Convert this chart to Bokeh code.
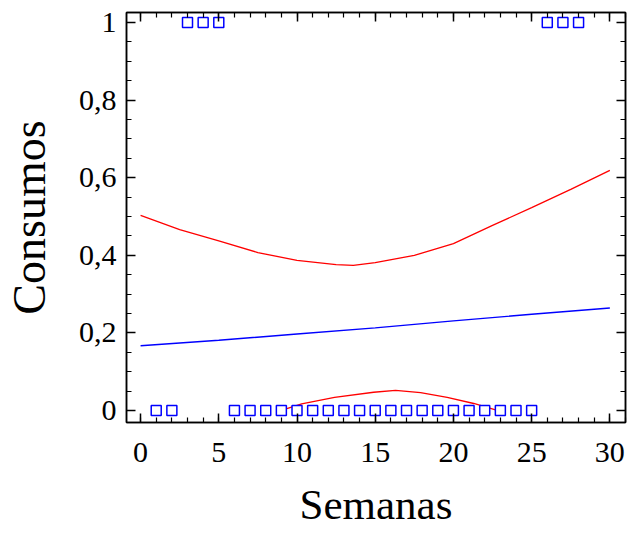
from bokeh.plotting import figure
from bokeh.models import LinearAxis, FixedTicker, Range1d, CustomLabelingPolicy
from bokeh.embed import file_html
from bokeh.resources import INLINE

# Observed data: weeks with consumption = 1 and = 0
semanas_uno = [3, 4, 5, 26, 27, 28]
semanas_cero = [1, 2, 6, 7, 8, 9, 10, 11, 12, 13, 14, 15, 16, 17, 18, 19,
                20, 21, 22, 23, 24, 25]

# Fitted model (blue)
ajuste_x = [0, 5, 10, 15, 20, 25, 30]
ajuste_y = [0.167, 0.181, 0.197, 0.213, 0.231, 0.248, 0.264]

# Upper confidence limit (red)
sup_x = [0, 2.5, 5, 7.5, 10, 12.5, 13.6, 15, 17.5, 20, 22.5, 25, 27.5, 30]
sup_y = [0.503, 0.466, 0.437, 0.407, 0.387, 0.376, 0.374, 0.381, 0.400,
         0.430, 0.477, 0.523, 0.570, 0.619]

# Lower confidence limit (red)
inf_x = [9.0, 10.3, 12.4, 14.9, 16.3, 17.9, 19.6, 21.3, 22.8]
inf_y = [0.0, 0.017, 0.034, 0.047, 0.052, 0.046, 0.034, 0.018, 0.0]

x_ticks = [0, 5, 10, 15, 20, 25, 30]
x_tick_labels = ["0", "5", "10", "15", "20", "25", "30"]
y_ticks = [0, 0.2, 0.4, 0.6, 0.8, 1.0]
y_tick_labels = ["0", "0,2", "0,4", "0,6", "0,8", "1"]
x_minor = list(range(-1, 32))
y_minor = [round(i * 0.05, 2) for i in range(0, 21)]

FONT = "Liberation Serif"

p = figure(width=632, height=539, output_backend="svg", toolbar_location=None,
           x_range=Range1d(-0.9, 31.0), y_range=Range1d(-0.031, 1.026),
           min_border_left=124, min_border_right=7, min_border_top=12,
           min_border_bottom=117, x_axis_location=None, y_axis_location=None)
p.background_fill_color = "white"
p.border_fill_color = "white"
p.outline_line_color = "black"
p.outline_line_width = 1.5
p.xgrid.visible = False
p.ygrid.visible = False

no_labels = CustomLabelingPolicy(code="""
    const n = indices.size
    for (let i = 0; i < n; i++) {
        indices.unset(i)
    }
    return indices
""")


def style_axis(ax, ticks, minor, labels, show_labels, standoff=10):
    ax.ticker = FixedTicker(ticks=ticks, minor_ticks=minor)
    ax.axis_line_color = "black"
    ax.axis_line_width = 1.5
    ax.major_tick_in = 9
    ax.major_tick_out = 0
    ax.minor_tick_in = 5
    ax.minor_tick_out = 0
    ax.major_tick_line_width = 1.5
    ax.minor_tick_line_width = 1.2
    ax.major_tick_line_color = "black"
    ax.minor_tick_line_color = "black"
    ax.major_label_text_font = FONT
    ax.major_label_text_color = "black"
    if show_labels:
        ax.major_label_overrides = {t: l for t, l in zip(ticks, labels)}
        ax.major_label_text_font_size = "30px"
        ax.major_label_standoff = standoff
    else:
        ax.major_label_text_font_size = "0px"
        ax.major_label_standoff = 0
        ax.major_label_policy = no_labels


xb = LinearAxis(axis_label="Semanas")
style_axis(xb, x_ticks, x_minor, x_tick_labels, True, standoff=20)
xb.axis_label_text_font = FONT
xb.axis_label_text_font_size = "43px"
xb.axis_label_text_font_style = "normal"
xb.axis_label_text_color = "black"
xb.axis_label_standoff = 16
p.add_layout(xb, "below")

yl = LinearAxis(axis_label="Consumos")
style_axis(yl, y_ticks, y_minor, y_tick_labels, True, standoff=10)
yl.axis_label_text_font = FONT
yl.axis_label_text_font_size = "46px"
yl.axis_label_text_font_style = "normal"
yl.axis_label_text_color = "black"
yl.axis_label_standoff = 21
p.add_layout(yl, "left")

xt = LinearAxis()
style_axis(xt, x_ticks, x_minor, x_tick_labels, False)
p.add_layout(xt, "above")

yr = LinearAxis()
style_axis(yr, y_ticks, y_minor, y_tick_labels, False)
p.add_layout(yr, "right")

p.line(ajuste_x, ajuste_y, line_color="#0000FF", line_width=1.4)
p.line(sup_x, sup_y, line_color="#FF0000", line_width=1.3)
p.line(inf_x, inf_y, line_color="#FF0000", line_width=1.3)

p.scatter(semanas_uno, [1] * len(semanas_uno), marker="square", size=10,
          fill_color="white", line_color="#0000FF", line_width=1.5)
p.scatter(semanas_cero, [0] * len(semanas_cero), marker="square", size=10,
          fill_color="white", line_color="#0000FF", line_width=1.5)

open("out.html", "w").write(file_html(p, INLINE))
